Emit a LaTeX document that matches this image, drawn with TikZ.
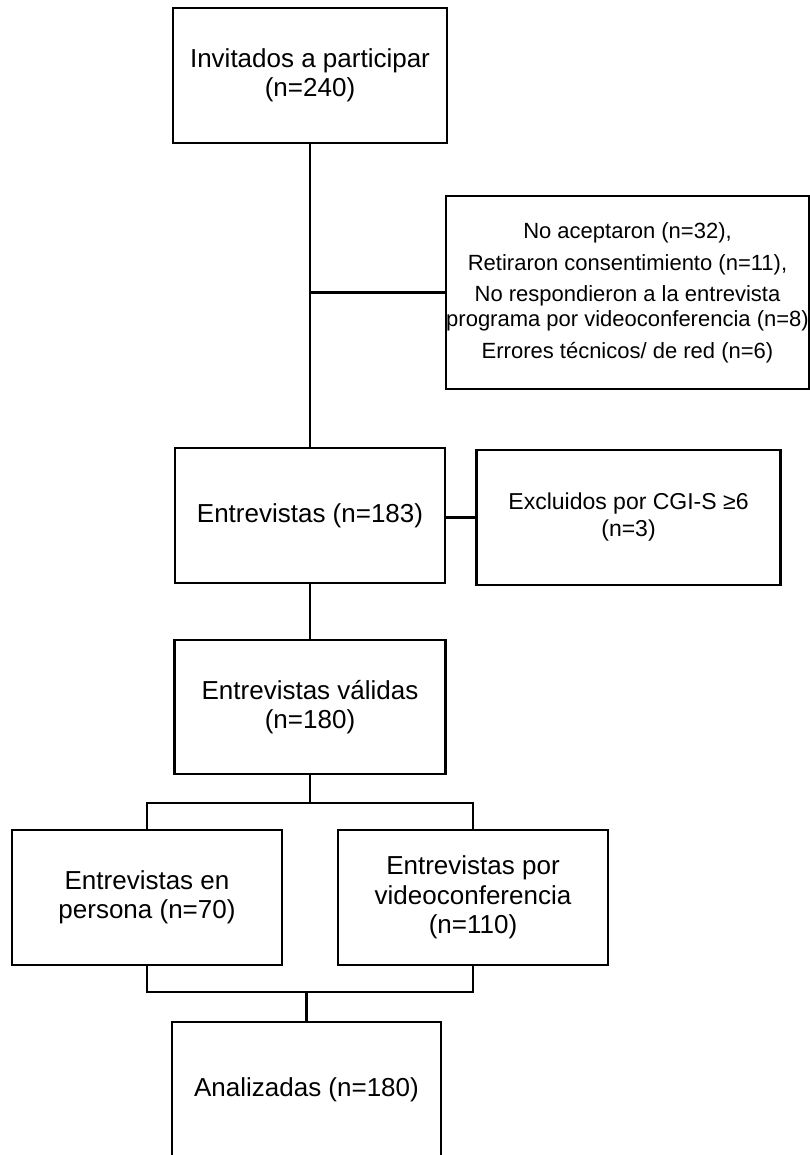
\documentclass[tikz,border=0pt]{standalone}
\usepackage{fontspec}
\setmainfont{Liberation Sans}
\usetikzlibrary{calc}
\tikzset{
  x=1pt, y=-1pt,
  box/.style={draw=black, line width=2.2pt, fill=white, align=center, inner sep=0pt, font=\fontsize{26}{29.5}\selectfont},
  sidebox/.style={box, font=\fontsize{22}{25}\selectfont},
  conn/.style={draw=black, line width=2.2pt}
}
\begin{document}
\begin{tikzpicture}
\useasboundingbox[fill=white] (0,0) rectangle (810,1155);
\clip (0,0) rectangle (810,1155);
\node[box, minimum width=274pt, minimum height=135pt] (b1) at (310,75.5) {Invitados a participar\\(n=240)};
\node[sidebox, minimum width=361pt, minimum height=193pt] (ex1) at (627.5,292.5) {No aceptaron (n=32),\\[7pt] Retiraron consentimiento (n=11),\\[6pt] No respondieron a la entrevista\\ programa por videoconferencia (n=8)\\[7pt] Errores técnicos/ de red (n=6)};
\node[box, minimum width=270pt, minimum height=135pt] (b2) at (310,515.5) {Entrevistas (n=183)};
\node[sidebox, minimum width=304pt, minimum height=135pt, font=\fontsize{23}{27}\selectfont] (ex2) at (628.5,517.5) {Excluidos por CGI-S ≥6\\(n=3)};
\node[box, minimum width=271pt, minimum height=134pt] (b3) at (310,707) {Entrevistas válidas\\(n=180)};
\node[box, minimum width=270pt, minimum height=135pt] (c1) at (147,897.5) {Entrevistas en\\persona (n=70)};
\node[box, minimum width=270pt, minimum height=135pt] (c2) at (473,897.5) {Entrevistas por\\videoconferencia\\(n=110)};
\node[box, minimum width=269pt, minimum height=136pt] (b4) at (306.5,1090) {Analizadas (n=180)};
\coordinate (split) at ($(b3.south)+(0,28)$);
\coordinate (merge) at ($(b4.north)+(0,-29)$);
\path[conn] (b1.south) -- (b2.north);
\path[conn] (b1.south |- ex1.west) -- (ex1.west);
\path[conn] (b2.east |- ex2.west) -- (ex2.west);
\path[conn] (b2.south) -- (b3.north);
\path[conn] (b3.south) -- (split);
\path[conn] (c1.north) |- (split) -| (c2.north);
\path[conn] (c1.south) |- (merge) -| (c2.south);
\path[conn] (merge) -- (b4.north);
\end{tikzpicture}
\end{document}
